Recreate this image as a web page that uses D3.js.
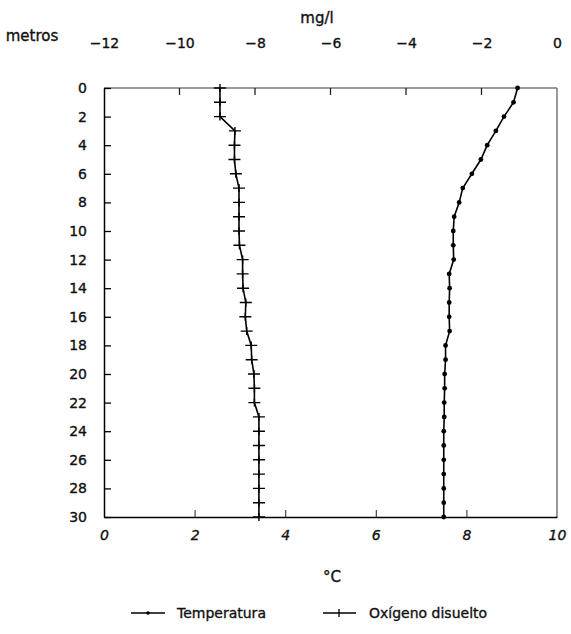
<!DOCTYPE html>
<html>
<head>
<meta charset="utf-8">
<script src="https://cdn.jsdelivr.net/npm/d3@7"></script>
<style>
  body { margin: 0; background: #fff; }
  svg text { font-family: "DejaVu Sans", "Liberation Sans", sans-serif; fill: #111; stroke: #111; stroke-width: 0.35px; }
</style>
</head>
<body>
<div id="chart"></div>
<script>
// depth in metres (0..30, every metre)
const depths = d3.range(0, 31);
// Temperatura (°C)
const temperatura = [9.13, 9.04, 8.83, 8.65, 8.46, 8.32, 8.12, 7.92, 7.84, 7.73, 7.71,
  7.71, 7.72, 7.62, 7.63, 7.62, 7.62, 7.63, 7.54, 7.54, 7.52, 7.52, 7.51, 7.51,
  7.50, 7.50, 7.50, 7.50, 7.50, 7.50, 7.50];
// Oxígeno disuelto (drawn on the same bottom scale)
const oxigeno = [2.56, 2.56, 2.56, 2.89, 2.88, 2.88, 2.91, 2.98, 2.98, 2.98, 2.98,
  2.99, 3.06, 3.06, 3.07, 3.13, 3.12, 3.15, 3.25, 3.26, 3.31, 3.32, 3.32, 3.42,
  3.42, 3.42, 3.42, 3.42, 3.42, 3.42, 3.42];

const bottomTicks = [0, 2, 4, 6, 8, 10];
const topTicks = [-12, -10, -8, -6, -4, -2, 0];
const depthTicks = d3.range(0, 31, 2);
const legendLabels = ['Temperatura', 'Oxígeno disuelto'];

const width = 571, height = 634;
const margin = { top: 88, right: 14, bottom: 117, left: 104 };

const svg = d3.select('#chart')
  .append('svg')
  .attr('width', width)
  .attr('height', height);

const x = d3.scaleLinear().domain([0, 10]).range([margin.left, width - margin.right]);
const xTop = d3.scaleLinear().domain([-12, 0]).range([margin.left, width - margin.right]);
const y = d3.scaleLinear().domain([0, 30]).range([margin.top, height - margin.bottom]);

// frame
svg.append('line')
  .attr('x1', x(0)).attr('x2', x(10)).attr('y1', y(0)).attr('y2', y(0))
  .attr('stroke', '#777').attr('stroke-width', 1.5);
svg.append('line')
  .attr('x1', x(10)).attr('x2', x(10)).attr('y1', y(0)).attr('y2', y(30))
  .attr('stroke', '#777').attr('stroke-width', 1.5);

// left axis (inward ticks)
const gy = svg.append('g')
  .attr('transform', `translate(${margin.left},0)`)
  .call(d3.axisLeft(y).tickValues(depthTicks).tickSizeInner(-7).tickSizeOuter(0).tickPadding(17));
gy.select('.domain').attr('stroke', '#000').attr('stroke-width', 1.5);
gy.selectAll('.tick line').attr('stroke', '#000').attr('stroke-width', 1.3);
gy.selectAll('.tick text').style('font-size', '14px').attr('fill', '#111');

// bottom axis
const gx = svg.append('g')
  .attr('transform', `translate(0,${y(30)})`)
  .call(d3.axisBottom(x).tickValues(bottomTicks).tickSizeInner(-7).tickSizeOuter(0).tickPadding(13));
gx.select('.domain').attr('stroke', '#000').attr('stroke-width', 1.5);
gx.selectAll('.tick line').attr('stroke', '#333').attr('stroke-width', 1.1)
  .attr('display', d => (d === 0 || d === 10) ? 'none' : null);
gx.selectAll('.tick text').style('font-size', '14px').style('font-style', 'italic').attr('fill', '#111');

// top axis (labels only, tick marks drawn below)
const gt = svg.append('g')
  .attr('transform', `translate(0,${y(0)})`)
  .call(d3.axisTop(xTop).tickValues(topTicks).tickSize(0).tickPadding(40)
    .tickFormat(d => d < 0 ? '\u2212' + Math.abs(d) : d));
gt.select('.domain').remove();
gt.selectAll('.tick text').style('font-size', '14px').attr('fill', '#111');

svg.selectAll('.top-tick')
  .data(topTicks.slice(1, -1))
  .enter()
  .append('line')
  .attr('class', 'top-tick')
  .attr('x1', d => xTop(d)).attr('x2', d => xTop(d))
  .attr('y1', y(0)).attr('y2', y(0) + 7)
  .attr('stroke', '#222').attr('stroke-width', 1.3);

// titles
svg.append('text').attr('x', 32).attr('y', 41).attr('text-anchor', 'middle')
  .style('font-size', '15px').text('metros');
svg.append('text').attr('x', 317).attr('y', 23).attr('text-anchor', 'middle')
  .style('font-size', '15px').text('mg/l');
svg.append('text').attr('x', 332).attr('y', 582).attr('text-anchor', 'middle')
  .style('font-size', '15px').text('°C');

const line = d3.line().x(d => x(d[0])).y(d => y(d[1]));

// Oxígeno disuelto
const oxPts = depths.map((d, i) => [oxigeno[i], d]);
svg.append('path').attr('d', line(oxPts))
  .attr('fill', 'none').attr('stroke', '#000').attr('stroke-width', 1.6);
svg.selectAll('.ox-mark').data(oxPts).enter().append('path')
  .attr('class', 'ox-mark')
  .attr('d', d => `M${x(d[0]) - 6},${y(d[1])}h12M${x(d[0])},${y(d[1]) - 4}v8`)
  .attr('stroke', '#000').attr('stroke-width', 1.4);

// Temperatura
const tPts = depths.map((d, i) => [temperatura[i], d]);
svg.append('path').attr('d', line(tPts))
  .attr('fill', 'none').attr('stroke', '#000').attr('stroke-width', 1.6);
svg.selectAll('.t-mark').data(tPts).enter().append('circle')
  .attr('class', 't-mark')
  .attr('cx', d => x(d[0])).attr('cy', d => y(d[1])).attr('r', 2.4)
  .attr('fill', '#000');

// legend
const lg = svg.append('g').attr('transform', 'translate(0,613)');
lg.append('line').attr('x1', 131).attr('x2', 165).attr('y1', 0).attr('y2', 0)
  .attr('stroke', '#000').attr('stroke-width', 1.5);
lg.append('circle').attr('cx', 148).attr('cy', 0).attr('r', 1.8).attr('fill', '#000');
lg.append('text').attr('x', 177).attr('y', 5).style('font-size', '14px').text(legendLabels[0]);
lg.append('line').attr('x1', 323).attr('x2', 356).attr('y1', 0).attr('y2', 0)
  .attr('stroke', '#000').attr('stroke-width', 1.5);
lg.append('path').attr('d', 'M339,-4v8').attr('stroke', '#000').attr('stroke-width', 1.3);
lg.append('text').attr('x', 369).attr('y', 5).style('font-size', '14px').text(legendLabels[1]);
</script>
</body>
</html>
